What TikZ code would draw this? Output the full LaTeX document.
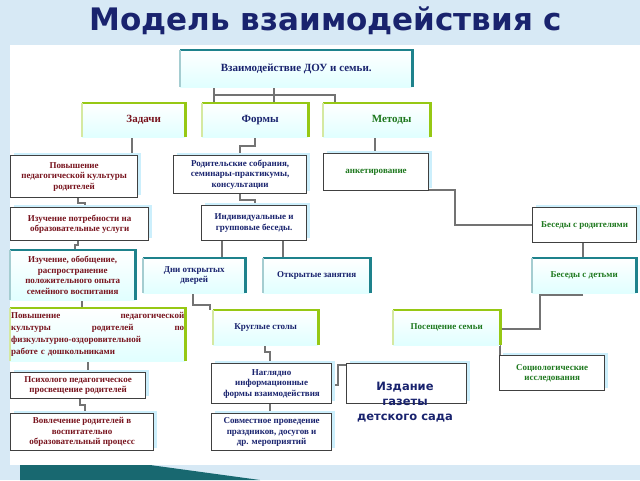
\documentclass[tikz,border=0pt]{standalone}
\usepackage{fontspec}
\setmainfont{Liberation Serif}
\newfontfamily\titlefont{DejaVu Sans}
\usetikzlibrary{positioning, shadows}
\definecolor{navy}{RGB}{25,35,110}
\definecolor{darkred}{RGB}{120,20,30}
\definecolor{dgreen}{RGB}{30,120,30}
\definecolor{teal1}{RGB}{30,130,140}
\definecolor{lime1}{RGB}{150,200,20}
\definecolor{frost}{RGB}{215,233,245}
\tikzset{
    box/.style={
        rectangle,
        draw=black!75,
        line width=1.2pt,
        fill=white,
        inner sep=1pt,
        align=center,
        font=\bfseries\fontsize{9}{10.5}\selectfont,
        anchor=north west,
        drop shadow={shadow xshift=3pt, shadow yshift=3pt, fill=cyan!20, opacity=1}
    },
    headbox/.style={
        rectangle,
        top color=white,
        bottom color=cyan!12,
        draw=none,
        inner sep=1pt,
        align=center,
        anchor=north west,
        font=\bfseries\fontsize{9}{10.5}\selectfont
    },
    link/.style={draw=black!55, line width=2.2pt}
}
\newcommand{\edge}[2]{% top and right edge of a box in colour #2
    \draw[#2, line width=2.5pt] (#1.north west) -- (#1.north east) -- (#1.south east);
    \draw[#2!40, line width=2.5pt] (#1.north west) -- (#1.south west);
}
\begin{document}
\begin{tikzpicture}[x=1pt, y=-1pt]
    \useasboundingbox (0,0) rectangle (640,480);
    \fill[frost] (0,0) rectangle (640,480);
    \fill[white] (10,45) rectangle (640,465);
    \fill[teal1!80!black] (20,465) -- (150,465) -- (260,480) -- (20,480) -- cycle;

    \node[font=\titlefont\bfseries\fontsize{31}{33}\selectfont, text=navy, anchor=west] (title) at (86,21) {Модель взаимодействия с};

    % links
    \draw[link] (214,87) -- (214,95) -- (335,95) -- (335,103);
    \draw[link] (274,87) -- (274,103);
    \draw[link] (214,95) -- (214,103);
    \draw[link] (132,137) -- (132,155);
    \draw[link] (78,197) -- (78,203) -- (85,203) -- (85,207);
    \draw[link] (78,240) -- (78,245) -- (75,245) -- (75,250);
    \draw[link] (82,300) -- (82,308);
    \draw[link] (88,361) -- (88,372);
    \draw[link] (80,398) -- (80,405) -- (85,405) -- (85,413);
    \draw[link] (255,137) -- (255,146) -- (240,146) -- (240,155);
    \draw[link] (240,193) -- (240,200) -- (255,200) -- (255,205);
    \draw[link] (222,240) -- (222,258);
    \draw[link] (283,240) -- (283,258);
    \draw[link] (193,293) -- (193,305) -- (210,305) -- (210,310);
    \draw[link] (265,345) -- (265,352) -- (270,352) -- (270,363);
    \draw[link] (270,403) -- (270,413);
    \draw[link] (331,385) -- (338,385) -- (338,365) -- (346,365);
    \draw[link] (375,137) -- (375,153);
    \draw[link] (375,190) -- (455,190) -- (455,225) -- (532,225);
    \draw[link] (583,242) -- (583,258);
    \draw[link] (583,295) -- (540,295) -- (540,329) -- (500,329);
    \draw[link] (500,345) -- (500,357);

    % head boxes
    \node[headbox, minimum width=232pt, minimum height=37pt, text=navy, font=\bfseries\fontsize{11}{12}\selectfont] (dou) at (180,50) {Взаимодействие ДОУ и семьи.};
    \edge{dou}{teal1}
    \node[headbox, minimum width=103pt, minimum height=34pt, text=darkred, font=\bfseries\fontsize{11}{12}\selectfont] (zad) at (82,103) {\hspace{20pt}Задачи};
    \edge{zad}{lime1}
    \node[headbox, minimum width=106pt, minimum height=34pt, text=navy, font=\bfseries\fontsize{11}{12}\selectfont] (form) at (202,103) {\hspace{10pt}Формы};
    \edge{form}{lime1}
    \node[headbox, minimum width=107pt, minimum height=34pt, text=dgreen, font=\bfseries\fontsize{11}{12}\selectfont] (meth) at (323,103) {\hspace{30pt}Методы};
    \edge{meth}{lime1}

    % tasks
    \node[box, text=darkred, minimum width=127pt, minimum height=42pt] (t1) at (10,155) {Повышение\\педагогической культуры\\родителей};
    \node[box, text=darkred, minimum width=138pt, minimum height=33pt] (t2) at (10,207) {Изучение потребности на\\образовательные услуги};
    \node[headbox, text=darkred, minimum width=125pt, minimum height=50pt] (t3) at (10,250) {Изучение, обобщение,\\распространение\\положительного опыта\\семейного воспитания};
    \edge{t3}{teal1}
    \node[headbox, text=darkred, minimum width=175pt, minimum height=53pt, text width=173pt, align=left, font=\bfseries\fontsize{9}{12}\selectfont] (t4) at (10,308) {Повышение\hfill педагогической\\культуры\hfill родителей\hfill по\\физкультурно-оздоровительной\\работе с дошкольниками};
    \edge{t4}{lime1}
    \node[box, text=darkred, minimum width=135pt, minimum height=26pt] (t5) at (10,372) {Психолого педагогическое\\просвещение родителей};
    \node[box, text=darkred, minimum width=143pt, minimum height=37pt] (t6) at (10,413) {Вовлечение родителей в\\воспитательно\\образовательный процесс};

    % forms
    \node[box, text=navy, minimum width=133pt, minimum height=38pt] (f1) at (173,155) {Родительские собрания,\\семинары-практикумы,\\консультации};
    \node[box, text=navy, minimum width=105pt, minimum height=35pt] (f2) at (201,205) {Индивидуальные и\\групповые беседы.};
    \node[headbox, text=navy, minimum width=102pt, minimum height=35pt] (f3) at (143,258) {Дни открытых\\дверей};
    \edge{f3}{teal1}
    \node[headbox, text=navy, minimum width=107pt, minimum height=35pt] (f4) at (263,258) {Открытые занятия};
    \edge{f4}{teal1}
    \node[headbox, text=navy, minimum width=105pt, minimum height=35pt] (f5) at (213,310) {Круглые столы};
    \edge{f5}{lime1}
    \node[box, text=navy, minimum width=120pt, minimum height=40pt] (f6) at (211,363) {Наглядно\\информационные\\формы взаимодействия};
    \node[box, text=navy, minimum width=120pt, minimum height=37pt] (f7) at (211,413) {Совместное проведение\\праздников, досугов и\\др. мероприятий};
    \node[box, minimum width=120pt, minimum height=40pt] (f8) at (346,363) {};
    \node[font=\titlefont\bfseries\fontsize{11.5}{15}\selectfont, text=navy, align=center] (gaz) at (405,402) {Издание\\газеты\\детского сада};

    % methods
    \node[box, text=dgreen, minimum width=105pt, minimum height=37pt] (m1) at (323,153) {анкетирование};
    \node[box, text=dgreen, minimum width=104pt, minimum height=35pt] (m2) at (532,207) {Беседы с родителями};
    \node[headbox, text=dgreen, minimum width=104pt, minimum height=35pt] (m3) at (532,258) {Беседы с детьми};
    \edge{m3}{teal1}
    \node[headbox, text=dgreen, minimum width=107pt, minimum height=35pt] (m4) at (393,310) {Посещение семьи};
    \edge{m4}{lime1}
    \node[box, text=dgreen, minimum width=105pt, minimum height=35pt] (m5) at (499,355) {Социологические\\исследования};
\end{tikzpicture}
\end{document}
